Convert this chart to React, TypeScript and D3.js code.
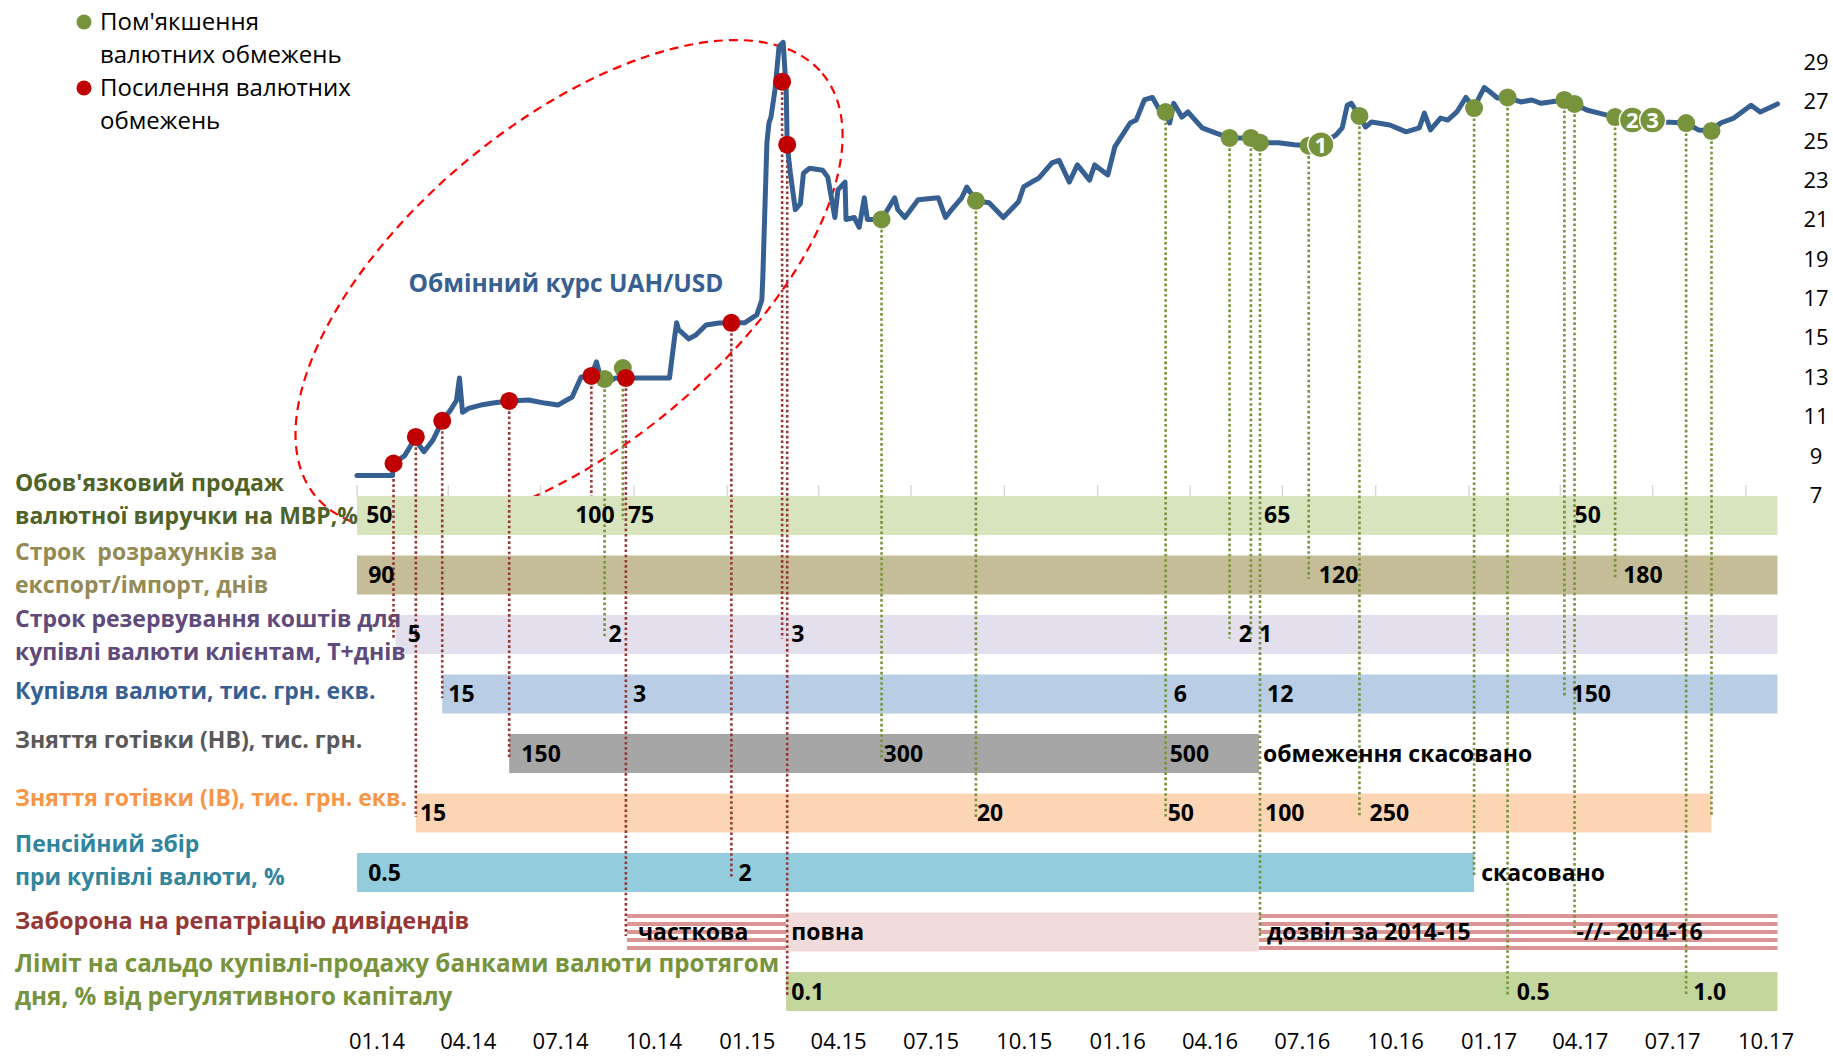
import React, { useEffect, useRef } from "react";
import * as d3 from "d3";

const W = 1833;
const H = 1056;
const font = "'Open Sans', sans-serif";

// official UAH/USD rate
const rate: [string, number][] = [
  ["2014-01-01", 7.99], ["2014-02-05", 7.99], ["2014-02-06", 8.6], ["2014-02-17", 9.0], ["2014-02-28", 9.95],
  ["2014-03-03", 9.55], ["2014-03-08", 9.2], ["2014-03-17", 9.8], ["2014-03-26", 10.77], ["2014-04-03", 11.3],
  ["2014-04-09", 11.8], ["2014-04-12", 12.95], ["2014-04-15", 11.2], ["2014-04-21", 11.4], ["2014-05-03", 11.57],
  ["2014-05-15", 11.67], ["2014-05-31", 11.78], ["2014-06-19", 11.83], ["2014-07-05", 11.67], ["2014-07-18", 11.57],
  ["2014-08-01", 11.98], ["2014-08-10", 13.0], ["2014-08-20", 13.05], ["2014-08-25", 13.76], ["2014-08-29", 13.0],
  ["2014-09-03", 12.6], ["2014-09-09", 12.84], ["2014-09-13", 12.95], ["2014-11-05", 12.95], ["2014-11-10", 15.0],
  ["2014-11-12", 15.75], ["2014-11-14", 15.4], ["2014-11-24", 14.93], ["2014-12-01", 15.13], ["2014-12-11", 15.64],
  ["2014-12-24", 15.74], ["2015-01-05", 15.75], ["2015-01-18", 15.75], ["2015-01-30", 16.15], ["2015-02-04", 16.9],
  ["2015-02-05", 18.1], ["2015-02-09", 24.9], ["2015-02-11", 25.9], ["2015-02-13", 26.2], ["2015-02-17", 27.6],
  ["2015-02-21", 29.8], ["2015-02-25", 30.0], ["2015-02-28", 27.6], ["2015-03-01", 24.8], ["2015-03-04", 23.4],
  ["2015-03-09", 21.5], ["2015-03-14", 21.8], ["2015-03-17", 23.35], ["2015-03-23", 23.6], ["2015-04-05", 23.5],
  ["2015-04-10", 23.15], ["2015-04-17", 21.1], ["2015-04-20", 22.5], ["2015-04-27", 22.9], ["2015-04-28", 21.0],
  ["2015-05-06", 21.1], ["2015-05-11", 20.6], ["2015-05-16", 22.1], ["2015-05-19", 21.0], ["2015-06-02", 21.0],
  ["2015-06-15", 22.1], ["2015-06-18", 21.5], ["2015-06-25", 21.1], ["2015-07-08", 22.0], ["2015-07-28", 22.1],
  ["2015-08-04", 21.1], ["2015-08-10", 21.5], ["2015-08-20", 22.1], ["2015-08-25", 22.65], ["2015-09-03", 21.95],
  ["2015-09-16", 21.85], ["2015-09-30", 21.1], ["2015-10-15", 21.9], ["2015-10-20", 22.65], ["2015-10-28", 22.9],
  ["2015-11-04", 23.1], ["2015-11-17", 23.87], ["2015-11-24", 24.0], ["2015-12-04", 22.9], ["2015-12-12", 23.77],
  ["2015-12-24", 23.0], ["2015-12-29", 23.77], ["2016-01-11", 23.26], ["2016-01-18", 24.7], ["2016-02-02", 25.9],
  ["2016-02-08", 26.05], ["2016-02-16", 27.07], ["2016-02-24", 27.2], ["2016-03-02", 26.56], ["2016-03-08", 26.46],
  ["2016-03-12", 25.9], ["2016-03-16", 26.9], ["2016-03-24", 26.2], ["2016-03-30", 26.46], ["2016-04-13", 25.65],
  ["2016-04-26", 25.4], ["2016-05-10", 25.14], ["2016-05-31", 25.14], ["2016-06-09", 24.9], ["2016-06-27", 24.9],
  ["2016-07-13", 24.8], ["2016-07-27", 24.75], ["2016-08-08", 24.8], ["2016-08-23", 25.3], ["2016-08-29", 25.65],
  ["2016-09-03", 26.8], ["2016-09-07", 26.9], ["2016-09-15", 26.26], ["2016-09-21", 25.7], ["2016-09-27", 25.95],
  ["2016-10-15", 25.8], ["2016-10-31", 25.45], ["2016-11-13", 25.65], ["2016-11-18", 26.4], ["2016-11-24", 25.55],
  ["2016-12-04", 26.15], ["2016-12-11", 26.05], ["2016-12-20", 26.46], ["2016-12-29", 27.2], ["2017-01-06", 26.66],
  ["2017-01-11", 27.2], ["2017-01-16", 27.7], ["2017-01-20", 27.55], ["2017-01-29", 27.17], ["2017-02-08", 27.2],
  ["2017-02-21", 26.97], ["2017-03-04", 27.07], ["2017-03-13", 26.9], ["2017-04-05", 27.07], ["2017-04-15", 26.87],
  ["2017-04-27", 26.56], ["2017-05-09", 26.4], ["2017-05-25", 26.2], ["2017-06-17", 26.05], ["2017-07-13", 25.95],
  ["2017-08-03", 25.9], ["2017-08-15", 25.55], ["2017-08-28", 25.5], ["2017-09-06", 25.9], ["2017-09-19", 26.15],
  ["2017-10-06", 26.8], ["2017-10-15", 26.46], ["2017-10-21", 26.6], ["2017-11-01", 26.87],
];

const bandTitles = [
  ["Обов'язковий продаж", "валютної виручки на МВР,%"],
  ["Строк  розрахунків за", "експорт/імпорт, днів"],
  ["Строк резервування коштів для", "купівлі валюти клієнтам, Т+днів"],
  ["Купівля валюти, тис. грн. екв."],
  ["Зняття готівки (НВ), тис. грн."],
  ["Зняття готівки (ІВ), тис. грн. екв."],
  ["Пенсійний збір", "при купівлі валюти, %"],
  ["Заборона на репатріацію дивідендів"],
  ["Ліміт на сальдо купівлі-продажу банками валюти протягом", "дня, % від регулятивного капіталу"],
];
const titleColors = ["#4f6228", "#948a54", "#604a7b", "#366092", "#595959", "#f79646", "#31859c", "#953735", "#77933c"];
const titleShift = [-24, -15, -7, 5, -6, -7, -21, -3, -20];
const titleSize = [23, 23, 23, 23, 23, 23, 23, 23.5, 24.2];
const bandColors = ["#d7e4bd", "#c4bd97", "#e4dfec", "#b9cde5", "#a6a6a6", "#fcd5b5", "#93cddd", "#f2dcdb", "#c3d69b"];

// [band, from, to, striped]
const bandSpans: [number, string, string, boolean][] = [
  [0, "2014-01-01", "2017-11-01", false],
  [1, "2014-01-01", "2017-11-01", false],
  [2, "2014-02-08", "2017-11-01", false],
  [3, "2014-03-26", "2017-11-01", false],
  [4, "2014-05-31", "2016-06-08", false],
  [5, "2014-02-28", "2017-08-28", false],
  [6, "2014-01-01", "2017-01-06", false],
  [7, "2014-09-24", "2015-02-28", true],
  [7, "2015-02-28", "2016-06-08", false],
  [7, "2016-06-08", "2017-11-01", true],
  [8, "2015-02-28", "2017-11-01", false],
];

// [band, date where the text starts, text]
const bandLabels: [number, string, string][] = [
  [0, "2014-01-10", "50"], [0, "2014-08-04", "100"], [0, "2014-09-25", "75"], [0, "2016-06-13", "65"], [0, "2017-04-15", "50"],
  [1, "2014-01-12", "90"], [1, "2016-08-06", "120"], [1, "2017-06-02", "180"],
  [2, "2014-02-20", "5"], [2, "2014-09-06", "2"], [2, "2015-03-05", "3"], [2, "2016-05-19", "2"], [2, "2016-06-08", "1"],
  [3, "2014-04-01", "15"], [3, "2014-09-30", "3"], [3, "2016-03-16", "6"], [3, "2016-06-16", "12"], [3, "2017-04-12", "150"],
  [4, "2014-06-12", "150"], [4, "2015-06-04", "300"], [4, "2016-03-12", "500"], [4, "2016-06-12", "обмеження скасовано"],
  [5, "2014-03-04", "15"], [5, "2015-09-04", "20"], [5, "2016-03-10", "50"], [5, "2016-06-14", "100"], [5, "2016-09-25", "250"],
  [6, "2014-01-12", "0.5"], [6, "2015-01-12", "2"], [6, "2017-01-13", "скасовано"],
  [7, "2014-10-05", "часткова"], [7, "2015-03-05", "повна"], [7, "2016-06-16", "дозвіл за 2014-15"], [7, "2017-04-17", "-//- 2014-16"],
  [8, "2015-03-05", "0.1"], [8, "2017-02-17", "0.5"], [8, "2017-08-10", "1.0"],
];

// tightening of FX restrictions: [date, rate, band it points to]
const tightening: [string, number, number][] = [
  ["2014-02-06", 8.6, 2], ["2014-02-28", 9.95, 5], ["2014-03-26", 10.77, 3], ["2014-05-31", 11.78, 4],
  ["2014-08-20", 13.05, 0], ["2014-09-23", 12.95, 7], ["2015-01-05", 15.75, 6], ["2015-02-24", 28.0, 2],
  ["2015-03-01", 24.8, 8],
];

// easing of FX restrictions
const easing: [string, number, number][] = [
  ["2014-09-02", 12.9, 2], ["2014-09-20", 13.45, 0], ["2015-06-02", 21.0, 4], ["2015-09-03", 21.95, 5],
  ["2016-03-08", 26.46, 5], ["2016-05-10", 25.14, 2], ["2016-05-31", 25.14, 2], ["2016-06-09", 24.9, 7],
  ["2016-07-27", 24.75, 1], ["2016-09-15", 26.26, 5], ["2017-01-06", 26.66, 6], ["2017-02-08", 27.2, 8],
  ["2017-04-05", 27.07, 3], ["2017-04-15", 26.87, 7], ["2017-05-25", 26.2, 1], ["2017-08-03", 25.9, 8],
  ["2017-08-28", 25.5, 5],
];

const numbered: [string, number, string][] = [
  ["2016-08-08", 24.8, "1"], ["2017-06-11", 26.05, "2"], ["2017-07-01", 26.05, "3"],
];

const yTicks = [7, 9, 11, 13, 15, 17, 19, 21, 23, 25, 27, 29];

const legend = [
  { color: "#77933c", lines: ["Пом'якшення", "валютних обмежень"] },
  { color: "#c00000", lines: ["Посилення валютних", "обмежень"] },
];

const parse = d3.timeParse("%Y-%m-%d");

function App() {
  const ref = useRef<SVGSVGElement>(null);

  useEffect(() => {
    const svg = d3.select(ref.current);
    svg.selectAll("*").remove();

    const x = d3.scaleTime()
      .domain([parse("2014-01-01")!, parse("2017-10-01")!])
      .range([357, 1746]);
    const y = d3.scaleLinear().domain([7, 29]).range([495, 62]);
    const band = d3.scaleBand<number>()
      .domain(d3.range(bandTitles.length))
      .range([496, 1011])
      .paddingInner(0.345);
    const mid = (i: number) => band(i)! + band.bandwidth() / 2;

    const pat = svg.append("defs").append("pattern")
      .attr("id", "stripes")
      .attr("patternUnits", "userSpaceOnUse")
      .attr("width", 10)
      .attr("height", 8);
    pat.append("rect").attr("width", 10).attr("height", 8).attr("fill", "#ffffff");
    pat.append("rect").attr("y", 2).attr("width", 10).attr("height", 4).attr("fill", "#da9694");

    // dashed ring round the 2014-15 crisis
    const cx = x(parse("2014-07-29")!), cy = y(17.67);
    svg.append("ellipse")
      .attr("cx", cx).attr("cy", cy)
      .attr("rx", 330).attr("ry", 161)
      .attr("transform", `rotate(-39.85 ${cx} ${cy})`)
      .attr("fill", "none")
      .attr("stroke", "#ff0000")
      .attr("stroke-width", 2.2)
      .attr("stroke-dasharray", "9 6");

    // quarter ticks
    const quarters = d3.timeMonth.every(3)!.range(parse("2014-01-01")!, parse("2017-10-02")!);
    svg.append("g").selectAll("line")
      .data(quarters)
      .enter().append("line")
      .attr("x1", d => x(d)).attr("x2", d => x(d))
      .attr("y1", 485).attr("y2", 497)
      .attr("stroke", "#d9d9d9").attr("stroke-width", 1.5);

    // restriction bands
    svg.append("g").selectAll("rect")
      .data(bandSpans)
      .enter().append("rect")
      .attr("x", d => x(parse(d[1])!))
      .attr("y", d => band(d[0])!)
      .attr("width", d => x(parse(d[2])!) - x(parse(d[1])!))
      .attr("height", band.bandwidth())
      .attr("fill", d => d[3] ? "url(#stripes)" : bandColors[d[0]]);

    // left titles
    const titles = svg.append("g").attr("font-family", font).attr("font-weight", 700);
    bandTitles.forEach((lines, i) => {
      lines.forEach((t, k) => {
        titles.append("text")
          .attr("x", 15)
          .attr("y", mid(i) + titleShift[i] + k * 33)
          .attr("font-size", titleSize[i])
          .attr("fill", titleColors[i])
          .style("white-space", "pre")
          .text(t);
      });
    });

    // dotted drop lines
    const drops = svg.append("g").attr("stroke-width", 2.6).attr("stroke-dasharray", "2.6 2.6").attr("fill", "none");
    drops.selectAll("line.t")
      .data(tightening)
      .enter().append("line")
      .attr("x1", d => x(parse(d[0])!)).attr("x2", d => x(parse(d[0])!))
      .attr("y1", d => y(d[1]))
      .attr("y2", d => d[2] === 0 ? band(0)! : mid(d[2]) + 4)
      .attr("stroke", "#953735");
    drops.selectAll("line.e")
      .data(easing)
      .enter().append("line")
      .attr("x1", d => x(parse(d[0])!)).attr("x2", d => x(parse(d[0])!))
      .attr("y1", d => y(d[1]))
      .attr("y2", d => mid(d[2]) + 4)
      .attr("stroke", "#77933c");

    // band values
    svg.append("g").selectAll("text")
      .data(bandLabels)
      .enter().append("text")
      .attr("x", d => x(parse(d[1])!))
      .attr("y", d => mid(d[0]) + 8)
      .attr("font-family", font)
      .attr("font-weight", 700)
      .attr("font-size", 23)
      .attr("fill", "#000")
      .text(d => d[2]);

    // exchange rate
    const line = d3.line<[string, number]>()
      .x(d => x(parse(d[0])!))
      .y(d => y(d[1]));
    svg.append("path")
      .datum(rate)
      .attr("d", line)
      .attr("fill", "none")
      .attr("stroke", "#376092")
      .attr("stroke-width", 5)
      .attr("stroke-linejoin", "round")
      .attr("stroke-linecap", "round");

    svg.append("text")
      .attr("x", 566).attr("y", 292)
      .attr("text-anchor", "middle")
      .attr("font-family", font).attr("font-weight", 700).attr("font-size", 24.5)
      .attr("fill", "#376092")
      .text("Обмінний курс UAH/USD");

    // event dots
    svg.append("g").selectAll("circle")
      .data(easing)
      .enter().append("circle")
      .attr("cx", d => x(parse(d[0])!)).attr("cy", d => y(d[1]))
      .attr("r", 9).attr("fill", "#77933c");
    svg.append("g").selectAll("circle")
      .data(tightening)
      .enter().append("circle")
      .attr("cx", d => x(parse(d[0])!)).attr("cy", d => y(d[1]))
      .attr("r", 9).attr("fill", "#c00000");

    const nums = svg.append("g").selectAll("g")
      .data(numbered)
      .enter().append("g")
      .attr("transform", d => `translate(${x(parse(d[0])!)},${y(d[1])})`);
    nums.append("circle").attr("r", 13).attr("fill", "#77933c").attr("stroke", "#ffffff").attr("stroke-width", 1.5);
    nums.append("text")
      .attr("text-anchor", "middle").attr("dy", "0.36em")
      .attr("font-family", font).attr("font-weight", 700).attr("font-size", 22)
      .attr("fill", "#ffffff")
      .text(d => d[2]);

    // right axis
    svg.append("g").selectAll("text")
      .data(yTicks)
      .enter().append("text")
      .attr("x", 1816).attr("y", d => y(d))
      .attr("dy", "0.36em")
      .attr("text-anchor", "middle")
      .attr("font-family", font).attr("font-size", 22)
      .attr("fill", "#000")
      .text(d => d);

    // bottom axis
    const fmt = d3.timeFormat("%m.%y");
    svg.append("g").selectAll("text")
      .data(quarters)
      .enter().append("text")
      .attr("x", d => x(d) + 20).attr("y", 1049)
      .attr("text-anchor", "middle")
      .attr("font-family", font).attr("font-size", 22)
      .attr("fill", "#000")
      .text(d => fmt(d));

    // legend
    legend.forEach((l, i) => {
      const top = 22 + i * 66;
      svg.append("circle").attr("cx", 84).attr("cy", top).attr("r", 7.5).attr("fill", l.color);
      l.lines.forEach((t, k) => {
        svg.append("text")
          .attr("x", 100).attr("y", top + 8 + k * 33)
          .attr("font-family", font).attr("font-size", 24)
          .attr("fill", "#000")
          .text(t);
      });
    });
  }, []);

  return (
    <svg ref={ref} width={W} height={H}
      style={{ position: "absolute", left: 0, top: 0, background: "#fff" }} />
  );
}

export default App;
